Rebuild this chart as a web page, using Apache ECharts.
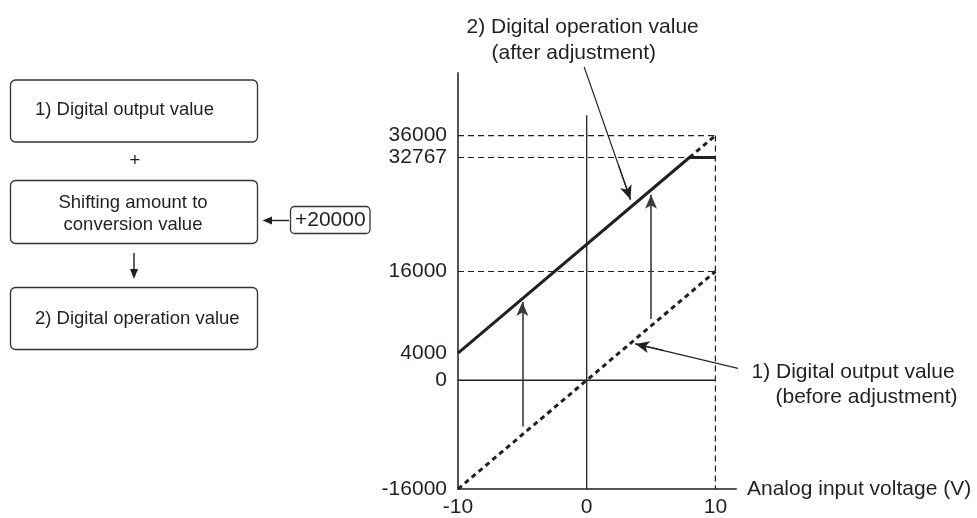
<!DOCTYPE html>
<html>
<head>
<meta charset="utf-8">
<script src="https://cdn.jsdelivr.net/npm/echarts@6/dist/echarts.min.js"></script>
<style>
html, body { margin: 0; padding: 0; background: #fff; }
#chart { width: 977px; height: 518px; }
</style>
</head>
<body>
<div id="chart"></div>
<script>
// axis ticks
var xTicks = [-10, 0, 10];
var yTicks = [-16000, 0, 4000, 16000, 32767, 36000];

// 1) digital output value (before adjustment)
var beforeLine = [[-10, -16000], [10, 16000]];
// 2) digital operation value (after adjustment), clipped at 32767
var afterLine = [[-10, 4000], [7.98, 32767], [10, 32767]];
var afterOver = [[7.98, 32767], [10, 36000]];

// dashed guide levels and the 10 V guide
var guideLevels = [36000, 32767, 16000];
var guideV = [[10, 36000], [10, -16000]];
// 0 V line and 0 value line
var zeroV = [[0, -16000], [0, 39000]];
var zeroLevel = [[-10, 0], [10, 0]];

// +20000 shift arrows: [voltage, from, to]
var shiftArrows = [[-5, -6800, 11500], [5, 9000, 27300]];

// callouts: line from text to curve, and the last part (inside the plot) that gets the arrow head
var calloutAfter = [[-0.2, 46100], [3.4, 26600]];
var calloutAfterHead = [[2.5, 31475], [3.4, 26600]];
var calloutBefore = [[12.45, 1450], [3.78, 5350]];
var calloutBeforeHead = [[6.0, 4351], [3.78, 5350]];

var font = '"Liberation Sans", Arial, sans-serif';
var ink = '#231f20';

var chart = echarts.init(document.getElementById('chart'));

function plainLine(name, data, width, type, color) {
  return {
    name: name,
    type: 'line',
    data: data,
    symbol: 'none',
    silent: true,
    clip: false,
    lineStyle: { color: color || ink, width: width, type: type }
  };
}

function arrowLines(name, pairs, color, width) {
  return {
    name: name,
    type: 'line',
    data: [],
    clip: false,
    silent: true,
    markLine: {
      silent: true,
      symbol: ['none', 'arrow'],
      symbolSize: [9, 14],
      label: { show: false },
      lineStyle: { color: color, width: width, type: 'solid' },
      emphasis: { disabled: true },
      data: pairs.map(function(p) {
        return [{ coord: p[0] }, { coord: p[1] }];
      })
    }
  };
}

var series = [];
guideLevels.forEach(function(v) {
  series.push(plainLine('guide' + v, [[-10, v], [10, v]], 1.2, [6, 4]));
});
series.push(plainLine('guide10V', guideV, 1.2, [6, 4]));
series.push(plainLine('zeroV', zeroV, 1.3, 'solid'));
series.push(plainLine('zeroLevel', zeroLevel, 1.3, 'solid'));
series.push(plainLine('before', beforeLine, 3, [5, 4]));
series.push(plainLine('afterOver', afterOver, 3, [5, 4]));
series.push(plainLine('after', afterLine, 3, 'solid'));
series.push(arrowLines('shift', shiftArrows.map(function(a) {
  return [[a[0], a[1]], [a[0], a[2]]];
}), '#3a3a3a', 1.6));
series.push(plainLine('calloutAfter', calloutAfter, 1.2, 'solid'));
series.push(plainLine('calloutBefore', calloutBefore, 1.2, 'solid'));
series.push(arrowLines('calloutHeads', [calloutAfterHead, calloutBeforeHead], ink, 1.2));

var boxStyle = { fill: '#fff', stroke: '#333', lineWidth: 1.3 };
function boxText(x, y, text, align, size) {
  return {
    type: 'text', x: x, y: y, silent: true,
    style: {
      text: text, fill: ink, font: (size || 18.5) + 'px ' + font,
      align: align || 'left', textAlign: align || 'left',
      verticalAlign: 'middle', textVerticalAlign: 'middle'
    }
  };
}

option = {
  animation: false,
  grid: { left: 458, right: 241, top: 73, bottom: 27 },
  xAxis: {
    type: 'value',
    min: -10,
    max: 11.6,
    name: 'Analog input voltage (V)',
    nameLocation: 'end',
    nameGap: 11,
    nameTextStyle: { color: ink, fontSize: 21, fontFamily: font, align: 'left', verticalAlign: 'middle' },
    axisLine: { onZero: false, lineStyle: { color: '#555', width: 2 } },
    axisTick: { show: false },
    splitLine: { show: false },
    axisLabel: {
      customValues: xTicks,
      color: ink, fontSize: 21, fontFamily: font, margin: 8,
      formatter: function(v) { return String(v); }
    }
  },
  yAxis: {
    type: 'value',
    min: -16000,
    max: 45200,
    axisLine: { show: true, onZero: false, lineStyle: { color: '#555', width: 2 } },
    axisTick: { show: false },
    splitLine: { show: false },
    axisLabel: {
      customValues: yTicks,
      color: ink, fontSize: 21, fontFamily: font, margin: 11,
      formatter: function(v) { return String(v); }
    }
  },
  series: series,
  graphic: [
    // flow of the shift calculation
    { type: 'rect', silent: true, shape: { x: 10.5, y: 80, width: 247, height: 62, r: 5 }, style: boxStyle },
    boxText(35, 110, '1) Digital output value'),
    boxText(135, 161, '+', 'center'),
    { type: 'rect', silent: true, shape: { x: 10.5, y: 180.5, width: 247, height: 63, r: 5 }, style: boxStyle },
    boxText(133, 202.5, 'Shifting amount to', 'center'),
    boxText(133, 225, 'conversion value', 'center'),
    { type: 'line', silent: true, shape: { x1: 134, y1: 253, x2: 134, y2: 271 }, style: { stroke: ink, lineWidth: 1.4 } },
    { type: 'polygon', silent: true, shape: { points: [[130, 269], [138, 269], [134, 279]] }, style: { fill: ink } },
    { type: 'rect', silent: true, shape: { x: 10.5, y: 287.5, width: 247, height: 62, r: 5 }, style: boxStyle },
    boxText(35, 318.5, '2) Digital operation value'),
    { type: 'line', silent: true, shape: { x1: 289, y1: 220.5, x2: 270, y2: 220.5 }, style: { stroke: ink, lineWidth: 1.4 } },
    { type: 'polygon', silent: true, shape: { points: [[262.5, 220.5], [272, 216.5], [272, 224.5]] }, style: { fill: ink } },
    { type: 'rect', silent: true, shape: { x: 290.5, y: 206.5, width: 79.5, height: 27, r: 4 }, style: boxStyle },
    boxText(295, 220.5, '+20000', 'left', 21),
    // callout texts
    boxText(466.5, 27, '2) Digital operation value', 'left', 21),
    boxText(491.5, 53, '(after adjustment)', 'left', 21),
    boxText(751.5, 372, '1) Digital output value', 'left', 21),
    boxText(775.5, 397, '(before adjustment)', 'left', 21)
  ]
};

chart.setOption(option);
</script>
</body>
</html>
